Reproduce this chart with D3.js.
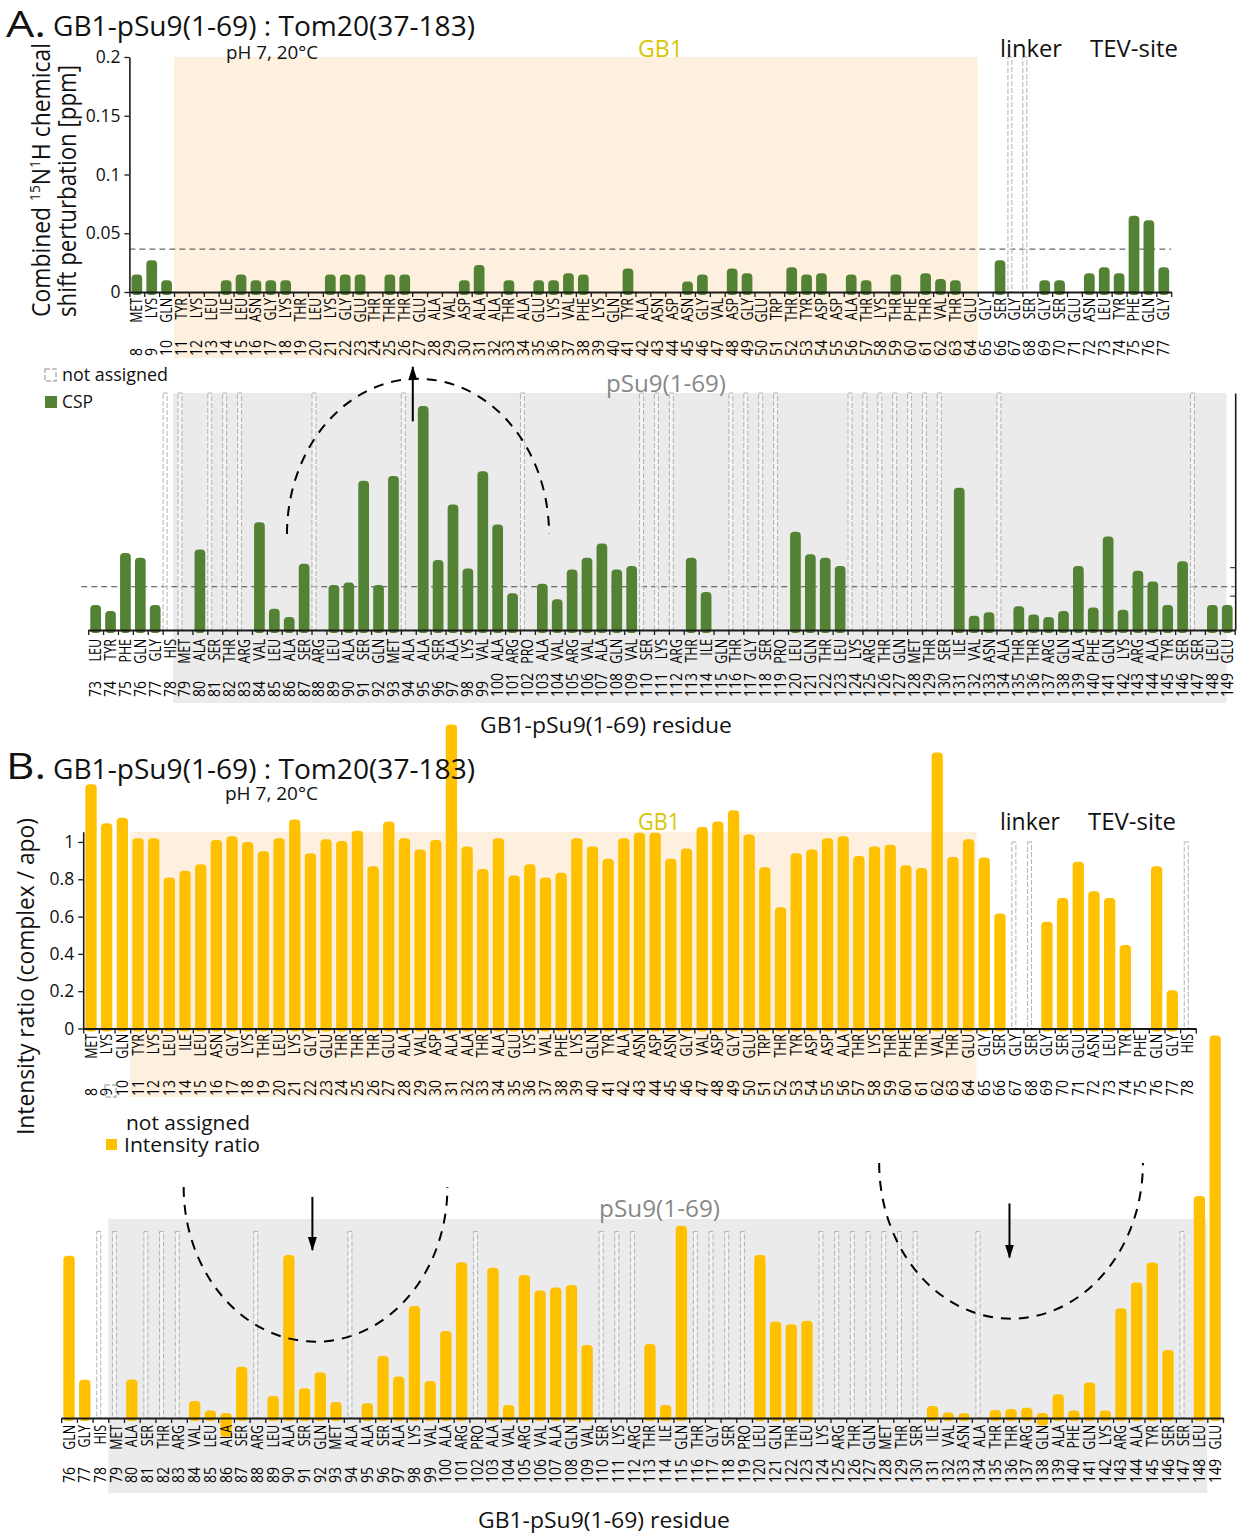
<!DOCTYPE html>
<html>
<head>
<meta charset="utf-8">
<script src="https://cdnjs.cloudflare.com/ajax/libs/d3/7.8.5/d3.min.js"></script>
<style>
  body { margin: 0; background: #fff; }
  svg { display: block; }
  text { font-family: "Open Sans", Lato, sans-serif; fill: #111; }
</style>
</head>
<body>
<svg id="chart" width="1237" height="1535"></svg>
<script>
// residue numbering of the construct starts at 8
var firstRes = 8;
var resNames = [
  "MET","LYS","GLN","TYR","LYS","LEU","ILE","LEU","ASN","GLY",
  "LYS","THR","LEU","LYS","GLY","GLU","THR","THR","THR","GLU",
  "ALA","VAL","ASP","ALA","ALA","THR","ALA","GLU","LYS","VAL",
  "PHE","LYS","GLN","TYR","ALA","ASN","ASP","ASN","GLY","VAL",
  "ASP","GLY","GLU","TRP","THR","TYR","ASP","ASP","ALA","THR",
  "LYS","THR","PHE","THR","VAL","THR","GLU","GLY","SER","GLY",
  "SER","GLY","SER","GLU","ASN","LEU","TYR","PHE","GLN","GLY",
  "HIS","MET","ALA","SER","THR","ARG","VAL","LEU","ALA","SER",
  "ARG","LEU","ALA","SER","GLN","MET","ALA","ALA","SER","ALA",
  "LYS","VAL","ALA","ARG","PRO","ALA","VAL","ARG","VAL","ALA",
  "GLN","VAL","SER","LYS","ARG","THR","ILE","GLN","THR","GLY",
  "SER","PRO","LEU","GLN","THR","LEU","LYS","ARG","THR","GLN",
  "MET","THR","SER","ILE","VAL","ASN","ALA","THR","THR","ARG",
  "GLN","ALA","PHE","GLN","LYS","ARG","ALA","TYR","SER","SER",
  "LEU","GLU"
];

// combined 15N1H chemical shift perturbation [ppm], null = no bar
var N = null;
var csp = [
  0.015, 0.027, 0.010, N, N, N, 0.010, 0.015, 0.010, 0.010,
  0.010, N, N, 0.015, 0.015, 0.015, N, 0.015, 0.015, N,
  N, N, 0.010, 0.023, N, 0.010, N, 0.010, 0.010, 0.016,
  0.015, N, N, 0.020, N, N, N, 0.009, 0.015, N,
  0.020, 0.016, N, N, 0.021, 0.015, 0.016, N, 0.015, 0.010,
  N, 0.015, N, 0.016, 0.011, 0.010, N, N, 0.027, N,
  N, 0.010, 0.010, N, 0.016, 0.021, 0.016, 0.065, 0.061, 0.021,
  N, N, 0.068, N, N, N, 0.091, 0.018, 0.011, 0.056,
  N, 0.038, 0.040, 0.126, 0.038, 0.130, N, 0.189, 0.059, 0.106,
  0.052, 0.134, 0.089, 0.031, N, 0.039, 0.026, 0.051, 0.061, 0.073,
  0.051, 0.054, N, N, N, 0.061, 0.032, N, N, N,
  N, N, 0.083, 0.064, 0.061, 0.054, N, N, N, N,
  N, N, N, 0.120, 0.012, 0.015, N, 0.020, 0.013, 0.011,
  0.016, 0.054, 0.019, 0.079, 0.017, 0.050, 0.041, 0.021, 0.058, N,
  0.021, 0.021
];

// intensity ratio complex / apo
var ratio = [
  1.31, 1.10, 1.13, 1.02, 1.02, 0.81, 0.845, 0.88, 1.01, 1.03,
  1.00, 0.95, 1.02, 1.12, 0.94, 1.015, 1.005, 1.06, 0.87, 1.11,
  1.02, 0.96, 1.01, 1.63, 0.975, 0.855, 1.02, 0.82, 0.88, 0.81,
  0.835, 1.02, 0.975, 0.91, 1.02, 1.05, 1.05, 0.91, 0.965, 1.08,
  1.11, 1.17, 1.04, 0.865, 0.65, 0.94, 0.96, 1.02, 1.03, 0.925,
  0.975, 0.985, 0.875, 0.86, 1.48, 0.92, 1.015, 0.917, 0.617, N,
  N, 0.572, 0.70, 0.894, 0.736, 0.70, 0.447, N, 0.87, 0.205,
  N, N, 0.207, N, N, N, 0.091, 0.04, -0.1, 0.275,
  N, 0.118, 0.874, 0.159, 0.245, 0.086, N, 0.079, 0.332, 0.222,
  0.60, 0.198, 0.466, 0.835, N, 0.806, 0.07, 0.767, 0.683, 0.70,
  0.713, 0.391, N, N, N, 0.397, 0.07, 1.03, N, N,
  N, N, 0.874, 0.517, 0.502, 0.522, N, N, N, N,
  N, N, N, 0.064, 0.03, 0.025, N, 0.043, 0.048, 0.055,
  -0.04, 0.127, 0.04, 0.19, 0.04, 0.588, 0.727, 0.833, 0.365, N,
  1.19, 2.05
];

var notAssigned = [67, 68, 78, 79, 81, 82, 83, 88, 94, 102, 110, 111, 112,
  116, 117, 118, 119, 124, 125, 126, 127, 128, 129, 130, 134, 147];

var cspThreshold = 0.0365;
var cspTicks = [0, 0.05, 0.1, 0.15, 0.2];
var ratioTicks = [0, 0.2, 0.4, 0.6, 0.8, 1];

var green = "#548235", amber = "#ffc000";
var peach = "#fdf0de", grey = "#ebebeb";

var svg = d3.select("#chart");

var defs = svg.append("defs");
defs.append("marker")
  .attr("id", "head")
  .attr("viewBox", "0 -5 14 10")
  .attr("refX", 13).attr("refY", 0)
  .attr("markerWidth", 14).attr("markerHeight", 10)
  .attr("markerUnits", "userSpaceOnUse")
  .attr("orient", "auto")
  .append("path").attr("d", "M0,-4.5L14,0L0,4.5Z").attr("fill", "#000");

function val(arr, r) { return arr[r - firstRes]; }

// one entry per strip of bars
var rows = [
  { from: 8, to: 77, values: csp, color: green, left: 129.4, right: 1171.2,
    base: 292, top: 57, max: 0.2, boxTop: 0.2, boxDx: -7, nameY: 298, numY: 356,
    region: { from: 10.5, to: 64.5, fill: peach, bottom: 358 },
    yTicks: cspTicks, threshold: true },
  { from: 73, to: 149, values: csp, color: green, left: 88.2, right: 1234.7,
    base: 630, top: 393, max: 0.2, boxTop: 0.2, boxDx: -7, nameY: 639, numY: 697,
    region: { from: 78.2, to: 148.95, fill: grey, bottom: 703 },
    threshold: true, rightAxis: [0.029, 0.053] },
  { from: 8, to: 78, values: ratio, color: amber, left: 83.2, right: 1195.8,
    base: 1028.5, top: 831.7, max: 1.055, boxTop: 1.0, boxDx: -3.7, nameY: 1034, numY: 1096,
    region: { from: 10.5, to: 64.5, fill: peach, bottom: 1097 },
    yTicks: ratioTicks },
  { from: 76, to: 149, values: ratio, color: amber, left: 61.2, right: 1223,
    base: 1418, top: 1221.2, max: 1.055, boxTop: 1.0, boxDx: -3.7, nameY: 1425, numY: 1483,
    region: { from: 78.5, to: 148.5, fill: grey, bottom: 1493, topPx: 1219 } }
];

rows.forEach(function (row) {
  var res = d3.range(row.from, row.to + 1);
  row.x = d3.scaleBand().domain(res).range([row.left, row.right])
    .paddingInner(0.28).paddingOuter(0.14);
  row.xe = d3.scaleLinear().domain([row.from - 0.5, row.to + 0.5]).range([row.left, row.right]);
  row.y = d3.scaleLinear().domain([0, row.max]).range([row.base, row.top]);
});

function center(row, r) { return row.x(r) + row.x.bandwidth() / 2; }

function drawRow(row) {
  var g = svg.append("g");
  var res = d3.range(row.from, row.to + 1);
  var rg = row.region;
  var rTop = rg.topPx || row.y(row.max);

  g.append("rect")
    .attr("x", row.xe(rg.from)).attr("y", rTop)
    .attr("width", row.xe(rg.to) - row.xe(rg.from))
    .attr("height", rg.bottom - rTop)
    .attr("fill", rg.fill);

  if (row.threshold) {
    g.append("line")
      .attr("x1", row.left - (row.rightAxis ? 7 : 0)).attr("x2", row.right)
      .attr("y1", row.y(cspThreshold)).attr("y2", row.y(cspThreshold))
      .attr("stroke", "#444").attr("stroke-width", 1)
      .attr("stroke-dasharray", "6,4");
  }

  // not assigned residues
  g.selectAll(".na")
    .data(notAssigned.filter(function (r) { return r >= row.from && r <= row.to; }))
    .enter().append("rect")
    .attr("x", function (r) { return center(row, r) + row.boxDx; })
    .attr("y", row.y(row.boxTop))
    .attr("width", 4)
    .attr("height", row.base - row.y(row.boxTop))
    .attr("fill", "rgba(255,255,255,0.45)")
    .attr("stroke", "#b3b3b3").attr("stroke-width", 1)
    .attr("stroke-dasharray", "5,2");

  var bars = res.filter(function (r) {
    return val(row.values, r) != null && notAssigned.indexOf(r) < 0;
  });
  g.selectAll(".bar")
    .data(bars)
    .enter().append("rect")
    .attr("x", function (r) { return row.x(r); })
    .attr("width", row.x.bandwidth())
    .attr("y", function (r) {
      var v = val(row.values, r);
      return v >= 0 ? row.y(v) : row.y(0) - 5;
    })
    .attr("height", function (r) {
      var v = val(row.values, r);
      return v >= 0 ? row.y(0) - row.y(v) + 3 : row.y(v) - row.y(0) + 5;
    })
    .attr("rx", 4).attr("ry", 4)
    .attr("fill", row.color);

  var ax = g.append("g")
    .attr("transform", "translate(0," + row.base + ")")
    .call(d3.axisBottom(row.xe)
      .tickValues(d3.range(row.from - 0.5, row.to + 1))
      .tickSize(5).tickSizeOuter(0).tickFormat(""));
  ax.select(".domain").attr("stroke", "#1a1a1a").attr("stroke-width", 2);
  ax.selectAll(".tick line").attr("stroke", "#1a1a1a").attr("stroke-width", 1.3);

  if (row.yTicks) {
    var ay = g.append("g")
      .attr("transform", "translate(" + row.left + ",0)")
      .call(d3.axisLeft(row.y).tickValues(row.yTicks)
        .tickSize(5).tickSizeOuter(0).tickPadding(4)
        .tickFormat(function (d) { return String(d); }));
    ay.select(".domain").attr("stroke", "#1a1a1a").attr("stroke-width", 1.6);
    ay.selectAll(".tick line").attr("stroke", "#1a1a1a").attr("stroke-width", 1.3);
    ay.selectAll(".tick text")
      .style("font-family", "'Open Sans', sans-serif")
      .style("font-size", "17.5px").attr("fill", "#111");
  }

  if (row.rightAxis) {
    var ar = g.append("g")
      .attr("transform", "translate(" + (row.right + 0.5) + ",0)")
      .call(d3.axisLeft(row.y).tickValues(row.rightAxis)
        .tickSize(5).tickSizeOuter(0).tickFormat(""));
    ar.select(".domain").attr("stroke", "#1a1a1a").attr("stroke-width", 1.6);
    ar.selectAll(".tick line").attr("stroke", "#1a1a1a");
  }

  // residue labels: name under the axis, number at the bottom
  var lab = g.selectAll(".lab").data(res).enter().append("g");
  lab.append("text")
    .attr("transform", function (r) {
      return "translate(" + (center(row, r) + 5.5) + "," + row.nameY + ") rotate(-90) scale(0.8,1)";
    })
    .attr("text-anchor", "end")
    .style("font-size", "15.5px").style("fill", "#000")
    .text(function (r) { return val(resNames, r); });
  lab.append("text")
    .attr("transform", function (r) {
      return "translate(" + (center(row, r) + 5.5) + "," + row.numY + ") rotate(-90) scale(0.9,1)";
    })
    .attr("text-anchor", "start")
    .style("font-size", "15.5px").style("fill", "#000")
    .text(function (r) { return r; });
}

rows.forEach(drawRow);

// dashed arcs and arrows, placed in residue / value units
var arcs = [
  { row: 1, cx: 94.65, cy: 0.081, rx: 8.8, ry: 0.131, up: true },
  { row: 3, cx: 91.7, cy: 1.239, rx: 8.4, ry: 0.83, up: false },
  { row: 3, cx: 136, cy: 1.367, rx: 8.4, ry: 0.835, up: false }
];
var arrows = [
  { row: 1, at: 94.3, from: 0.176, to: 0.222 },
  { row: 3, at: 91.5, from: 1.185, to: 0.90 },
  { row: 3, at: 135.9, from: 1.15, to: 0.86 }
];

arcs.forEach(function (a) {
  var row = rows[a.row];
  var cx = row.xe(a.cx), cy = row.y(a.cy);
  var rx = row.xe(a.cx + a.rx) - cx;
  var ry = cy - row.y(a.cy + a.ry);
  svg.append("path")
    .attr("d", "M" + (cx - rx) + "," + cy + " A" + rx + "," + ry + " 0 0 " + (a.up ? 1 : 0) + " " + (cx + rx) + "," + cy)
    .attr("fill", "none").attr("stroke", "#000").attr("stroke-width", 2)
    .attr("stroke-dasharray", "10,8");
});
arrows.forEach(function (a) {
  var row = rows[a.row];
  svg.append("line")
    .attr("x1", row.xe(a.at)).attr("x2", row.xe(a.at))
    .attr("y1", row.y(a.from)).attr("y2", row.y(a.to))
    .attr("stroke", "#000").attr("stroke-width", 2)
    .attr("marker-end", "url(#head)");
});

// texts
function label(x, y, str, size, opts) {
  opts = opts || {};
  var t = svg.append("text").attr("x", x).attr("y", y)
    .style("font-size", size + "px").text(str);
  if (opts.fill) t.style("fill", opts.fill);
  if (opts.width) t.attr("textLength", opts.width).attr("lengthAdjust", "spacingAndGlyphs");
  return t;
}

label(6, 37, "A.", 36, { width: 40 });
label(53, 36, "GB1-pSu9(1-69) : Tom20(37-183)", 27, { width: 422 });
label(226, 59, "pH 7, 20\u00b0C", 18, { width: 92 });
label(638, 57, "GB1", 24, { width: 45, fill: "#d8c600" });
label(1000, 57, "linker", 24, { width: 62 });
label(1090, 57, "TEV-site", 24, { width: 88 });
label(606, 392, "pSu9(1-69)", 24, { width: 120, fill: "#888" });
label(480, 733, "GB1-pSu9(1-69) residue", 22, { width: 252 });

label(6, 779, "B.", 36, { width: 40 });
label(53, 779, "GB1-pSu9(1-69) : Tom20(37-183)", 27, { width: 422 });
label(225, 800, "pH 7, 20\u00b0C", 18, { width: 93 });
label(638, 830, "GB1", 24, { width: 42, fill: "#d8c600" });
label(1000, 830, "linker", 24, { width: 60 });
label(1088, 830, "TEV-site", 24, { width: 88 });
label(599, 1217, "pSu9(1-69)", 24, { width: 121, fill: "#888" });
label(478, 1528, "GB1-pSu9(1-69) residue", 22, { width: 252 });

// y titles
var yt1 = svg.append("text")
  .attr("transform", "translate(50,317) rotate(-90)")
  .style("font-size", "25px")
  .attr("textLength", 274).attr("lengthAdjust", "spacingAndGlyphs");
yt1.append("tspan").text("Combined ");
yt1.append("tspan").style("font-size", "15px").attr("dy", -10).text("15");
yt1.append("tspan").attr("dy", 10).text("N");
yt1.append("tspan").style("font-size", "15px").attr("dy", -10).text("1");
yt1.append("tspan").attr("dy", 10).text("H chemical");

svg.append("text")
  .attr("transform", "translate(76,317) rotate(-90)")
  .style("font-size", "25px")
  .attr("textLength", 252).attr("lengthAdjust", "spacingAndGlyphs")
  .text("shift perturbation [ppm]");

svg.append("text")
  .attr("transform", "translate(34,1135) rotate(-90)")
  .style("font-size", "24px")
  .attr("textLength", 317).attr("lengthAdjust", "spacingAndGlyphs")
  .text("Intensity ratio (complex / apo)");

// legends
function naIcon(x, y) {
  svg.append("rect").attr("x", x).attr("y", y).attr("width", 11).attr("height", 12)
    .attr("fill", "none").attr("stroke", "#b3b3b3").attr("stroke-width", 1.5)
    .attr("stroke-dasharray", "5,2");
}
naIcon(45, 369);
label(62, 381, "not assigned", 18, { width: 106 });
svg.append("rect").attr("x", 45).attr("y", 396).attr("width", 12).attr("height", 12).attr("fill", green);
label(62, 408, "CSP", 18, { width: 31 });

naIcon(105, 1085);
label(126, 1130, "not assigned", 20, { width: 124 });
svg.append("rect").attr("x", 106).attr("y", 1139).attr("width", 11).attr("height", 11).attr("fill", amber);
label(124, 1152, "Intensity ratio", 20, { width: 136 });
</script>
</body>
</html>
